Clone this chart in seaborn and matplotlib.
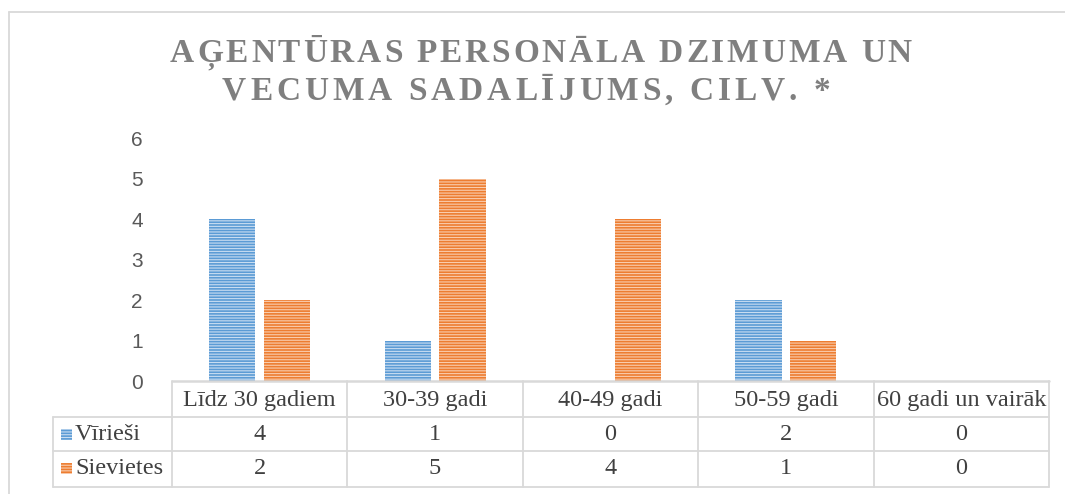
import matplotlib
matplotlib.use("Agg")
import matplotlib.pyplot as plt
import seaborn as sns
import pandas as pd
from matplotlib.patches import Rectangle
from matplotlib.lines import Line2D
from matplotlib.font_manager import FontProperties

# ---------------- data ----------------
categories = ["Līdz 30 gadiem", "30-39 gadi", "40-49 gadi", "50-59 gadi", "60 gadi un vairāk"]
series = ["Vīrieši", "Sievietes"]
virieši = [4, 1, 0, 2, 0]
sievietes = [2, 5, 4, 1, 0]
yticks = [0, 1, 2, 3, 4, 5, 6]
title_lines = ["AĢENTŪRAS PERSONĀLA DZIMUMA UN", "VECUMA SADALĪJUMS, CILV. *"]
colors = ["#5B9BD5", "#ED7D31"]
hatch_colors = ["#C9DDF1", "#F9CDAE"]

sns.set_theme(style="white")
plt.rcParams['hatch.linewidth'] = 0.8

df = pd.DataFrame({
    "cat": categories * 2,
    "series": [series[0]] * len(categories) + [series[1]] * len(categories),
    "val": virieši + sievietes,
})

W, H = 1065, 494
fig = plt.figure(figsize=(W / 100, H / 100), dpi=100)
fig.patch.set_facecolor("white")

def fx(px):
    return px / W

def fy(py):
    return 1 - py / H

ax = fig.add_axes([fx(172), fy(381), (1049 - 172) / W, (381 - 138) / H])
sns.barplot(data=df, x="cat", y="val", hue="series", palette=colors,
            width=0.626, gap=0.16, saturation=1, ax=ax, legend=False)

for p in ax.patches:
    fc = matplotlib.colors.to_hex(p.get_facecolor())
    idx = 0 if fc.lower() == colors[0].lower() else 1
    p.set_hatch("------")
    p.set_edgecolor(hatch_colors[idx])
    p.set_linewidth(0)

ax.set_xlim(-0.5, len(categories) - 0.5)
ax.set_ylim(0, 6)
ax.set_yticks(yticks)
ax.set_xticks([])
ax.set_xlabel("")
ax.set_ylabel("")
ax.tick_params(axis="y", length=0, pad=21, labelsize=15, labelcolor="#595959")
for lbl in ax.get_yticklabels():
    lbl.set_fontfamily("Liberation Sans")
for s in ax.spines.values():
    s.set_visible(False)
ax.grid(False)

# ---------------- data table ----------------
line_c = "#D9D9D9"
to_fig = ax.transData + fig.transFigure.inverted()
xb = [to_fig.transform((b - 0.5, 0))[0] for b in range(len(categories) + 1)]
xc = [to_fig.transform((i, 0))[0] for i in range(len(categories))]
x_left = fx(53)
y_top, y_h, y_r1, y_r2 = fy(381), fy(417), fy(451), fy(487)

def hline(y, x0, x1, lw=1.3):
    fig.add_artist(Line2D([x0, x1], [y, y], color=line_c, lw=lw, transform=fig.transFigure))

def vline(x, y0, y1, lw=1.3):
    fig.add_artist(Line2D([x, x], [y0, y1], color=line_c, lw=lw, transform=fig.transFigure))

hline(y_top, xb[0], xb[-1], lw=1.8)
for y in (y_h, y_r1, y_r2):
    hline(y, x_left, xb[-1])
vline(x_left, y_h, y_r2)
for x in xb:
    vline(x, y_top, y_r2)

tprop = dict(fontfamily="Liberation Serif", fontsize=17.5, color="#404040")
for i, c in enumerate(categories):
    fig.text(xc[i], fy(400), c, ha="center", va="center", **tprop)
    fig.text(xc[i], fy(434), str(virieši[i]), ha="center", va="center", **tprop)
    fig.text(xc[i], fy(468), str(sievietes[i]), ha="center", va="center", **tprop)

for j, (name, yc) in enumerate(zip(series, (434, 468))):
    fig.add_artist(Rectangle((fx(61), fy(yc + 6)), 11 / W, 11 / H, transform=fig.transFigure,
                             facecolor=colors[j], edgecolor=hatch_colors[j], lw=0, hatch="------"))
    fig.text(fx(75), fy(yc), name, ha="left", va="center", **tprop)

# ---------------- outer border ----------------
fig.add_artist(Line2D([fx(8.5), fx(8.5)], [fy(12), 0], color=line_c, lw=1.3, transform=fig.transFigure))
fig.add_artist(Line2D([fx(8.5), 1], [fy(12), fy(12)], color=line_c, lw=1.3, transform=fig.transFigure))

# ---------------- title (letter-spaced) ----------------
renderer = fig.canvas.get_renderer()
title_prop = FontProperties(family="Liberation Serif", weight="bold", size=24)

def adv(ch):
    w2 = renderer.get_text_width_height_descent("XX", title_prop, ismath=False)[0]
    w3 = renderer.get_text_width_height_descent("X" + ch + "X", title_prop, ismath=False)[0]
    return w3 - w2

specs = [(title_lines[0], 170, 742, 62), (title_lines[1], 222, 608, 100)]
for text, x0, target, base in specs:
    widths = [adv(ch) for ch in text]
    track = (target - sum(widths)) / (len(text) - 1)
    x = x0
    for ch, w in zip(text, widths):
        if ch != " ":
            fig.text(fx(x), fy(base), ch, ha="left", va="baseline",
                     fontproperties=title_prop, color="#7F7F7F")
        x += w + track

fig.savefig("out.png", dpi=100, facecolor="white")
